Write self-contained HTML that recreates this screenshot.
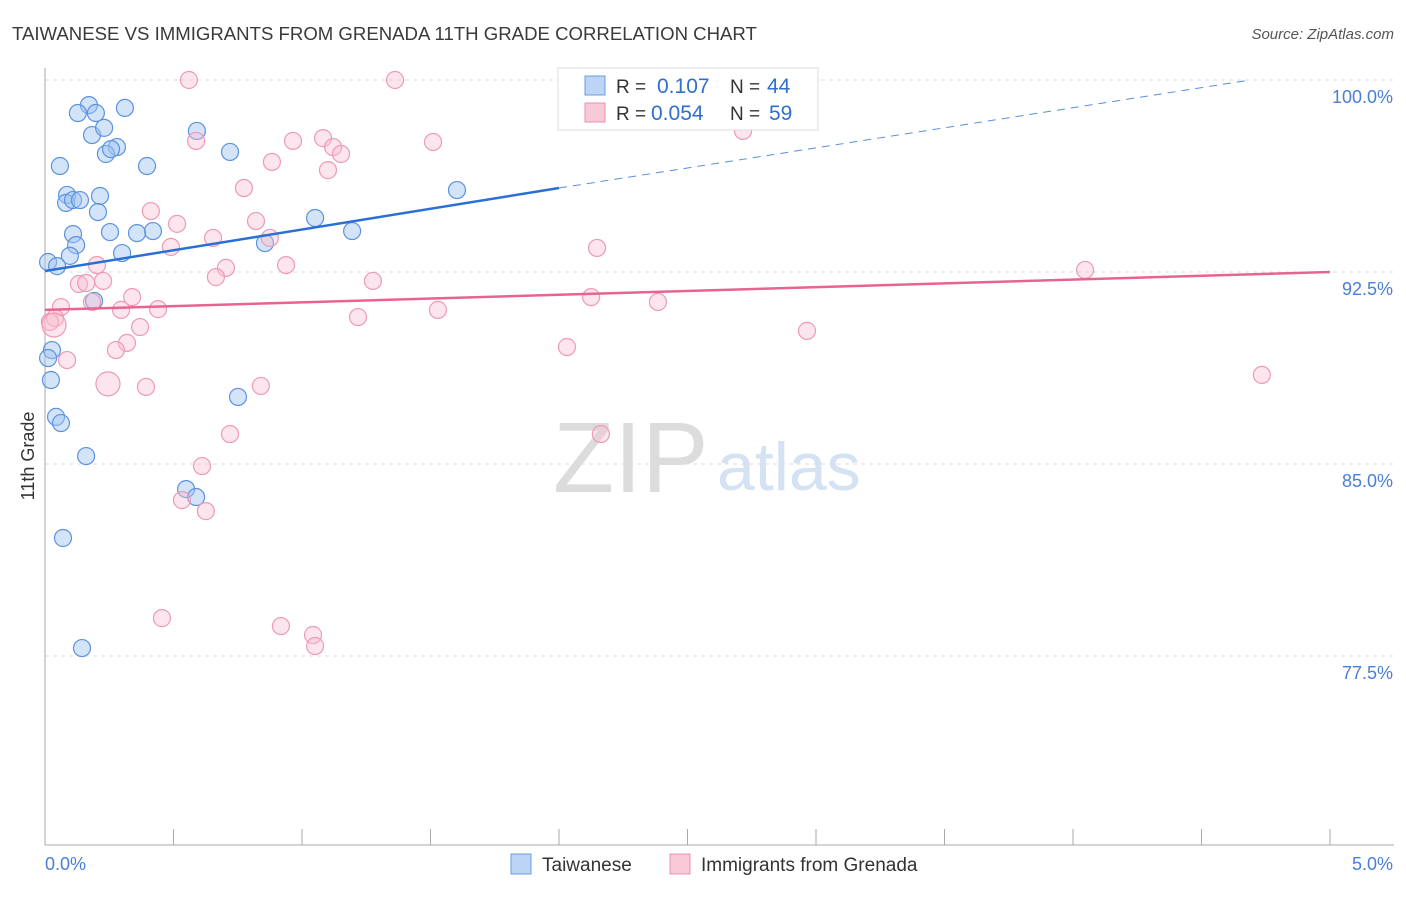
<!DOCTYPE html>
<html><head><meta charset="utf-8">
<style>
body{margin:0;background:#fff;font-family:"Liberation Sans",sans-serif;}
svg text{font-family:"Liberation Sans",sans-serif;}
</style></head>
<body>
<svg id="chart" width="1406" height="892" xmlns="http://www.w3.org/2000/svg">
<text x="12" y="40" font-size="18.6" fill="#3a3a3a">TAIWANESE VS IMMIGRANTS FROM GRENADA 11TH GRADE CORRELATION CHART</text>
<text x="1394" y="39" font-size="15" fill="#555" text-anchor="end" font-style="italic">Source: ZipAtlas.com</text>
<g>
<text x="553" y="492" font-size="100" fill="#dcdcdc" font-family="Liberation Serif,serif">ZIP</text>
<text x="717" y="490" font-size="68" fill="#d4e2f4">atlas</text>
</g>
<g id="grid"></g>
<g id="axes"></g>
<g id="pts"></g>
<g id="trends"></g>
<text transform="translate(34,456) rotate(-90)" font-size="18" fill="#333" text-anchor="middle">11th Grade</text>
<g>
<rect x="558" y="68" width="260" height="62" fill="#fff" stroke="#ddd"/>
<rect x="585" y="76" width="20" height="19" fill="#bcd4f5" stroke="#6a9de0"/>
<text x="616" y="93" font-size="19" fill="#333">R = </text><text x="657" y="93" font-size="21" fill="#2f6fd0">0.107</text>
<text x="730" y="93" font-size="19" fill="#333">N = </text><text x="767" y="93" font-size="21" fill="#2f6fd0">44</text>
<rect x="585" y="103" width="20" height="19" fill="#f8c9d7" stroke="#e890aa"/>
<text x="616" y="120" font-size="19" fill="#333">R = </text><text x="651" y="120" font-size="21" fill="#2f6fd0">0.054</text>
<text x="730" y="120" font-size="19" fill="#333">N = </text><text x="769" y="120" font-size="21" fill="#2f6fd0">59</text>
</g>
<g>
<rect x="511" y="854" width="20" height="20" fill="#bcd4f5" stroke="#6a9de0"/>
<text x="542" y="871" font-size="19" fill="#333">Taiwanese</text>
<rect x="670" y="854" width="20" height="20" fill="#f8c9d7" stroke="#e890aa"/>
<text x="701" y="871" font-size="19" fill="#333">Immigrants from Grenada</text>
</g>
</svg>
<script>
const blueX=[0.171,0.128,0.198,0.311,0.183,0.230,0.280,0.237,0.257,0.058,0.397,0.591,0.720,0.086,0.214,0.082,0.109,0.136,0.206,1.603,1.051,1.195,0.420,0.358,0.253,0.109,0.121,0.097,0.300,0.856,0.012,0.047,0.191,0.027,0.012,0.023,0.043,0.062,0.751,0.160,0.549,0.588,0.070,0.144];
const blueY=[99.02,98.71,98.71,98.91,97.85,98.13,97.38,97.11,97.30,96.64,96.64,98.01,97.19,95.51,95.47,95.20,95.31,95.31,94.84,95.70,94.61,94.10,94.10,94.02,94.06,93.98,93.55,93.13,93.24,93.63,92.89,92.73,91.37,89.45,89.14,88.28,86.84,86.60,87.62,85.31,84.02,83.71,82.11,77.81];
const pinkX=[0.560,1.362,0.588,0.965,1.082,1.121,1.152,1.101,0.883,0.774,0.412,0.514,0.821,0.654,0.875,0.490,1.510,2.716,2.148,0.202,0.938,0.704,0.665,0.132,0.160,0.226,1.276,0.339,0.183,0.062,2.125,2.385,4.047,0.296,0.440,1.529,1.218,0.370,0.039,0.019,2.965,0.319,0.276,2.031,0.086,4.735,0.245,0.393,0.840,0.720,2.163,0.611,0.533,0.626,0.455,0.918,1.043,1.051,0.035];
const pinkY=[100.0,100.0,97.62,97.62,97.73,97.38,97.11,96.48,96.80,95.78,94.88,94.38,94.49,93.83,93.83,93.48,97.58,98.01,93.44,92.77,92.77,92.66,92.30,92.03,92.07,92.15,92.15,91.52,91.33,91.13,91.52,91.33,92.58,91.02,91.05,91.02,90.74,90.35,90.70,90.55,90.20,89.73,89.45,89.57,89.06,88.48,88.13,88.01,88.05,86.17,86.17,84.92,83.59,83.16,78.98,78.67,78.32,77.89,90.43];
const pinkBig=[46,58];
const blueTrendX=[0,2,4.69];
const blueTrendY=[92.54,95.78,100.0];
const pinkTrendX=[0,5];
const pinkTrendY=[91.02,92.5];
const yTicks=[100,92.5,85,77.5];
const yTickLabels=["100.0%","92.5%","85.0%","77.5%"];
const xTicks=[0,0.5,1,1.5,2,2.5,3,3.5,4,4.5,5];
const xEndLabels=["0.0%","5.0%"];

const NS="http://www.w3.org/2000/svg";
const X0=45,X1=1330,Y0=845;
function sx(v){return X0+(v/5)*(X1-X0);}
function sy(v){return 80+(100-v)*25.6;}
function mk(tag,attrs,parent){const e=document.createElementNS(NS,tag);for(const k in attrs)e.setAttribute(k,attrs[k]);parent.appendChild(e);return e;}
const grid=document.getElementById('grid'),axes=document.getElementById('axes'),pts=document.getElementById('pts'),tr=document.getElementById('trends');
yTicks.forEach((t,i)=>{
  const l=mk('line',{x1:X0,x2:1394,y1:sy(t),y2:sy(t),stroke:'#ddd','stroke-dasharray':'4,4'},grid);
  
  
  const tx=mk('text',{x:1393,y:sy(t)+23,'font-size':18,fill:'#4a7fd4','text-anchor':'end'},axes);
  tx.textContent=yTickLabels[i];
  
  
});
const ya=mk('line',{x1:X0,x2:X0,y1:68,y2:Y0,stroke:'#aaa'},axes);


const xa=mk('line',{x1:X0,x2:1394,y1:Y0,y2:Y0,stroke:'#aaa'},axes);


xTicks.forEach(t=>{
  const l=mk('line',{x1:sx(t),x2:sx(t),y1:Y0-16,y2:Y0,stroke:'#aaa'},axes);
  
  
});
[[0,'start',45],[5,'end',1393]].forEach((a,i)=>{
  const tx=mk('text',{x:a[2],y:870,'font-size':18,fill:'#4a7fd4','text-anchor':a[1]},axes);
  tx.textContent=xEndLabels[i];
  
  
});
blueX.forEach((v,i)=>{
  const c=mk('circle',{cx:sx(v),cy:sy(blueY[i]),r:8.5,fill:'rgba(160,195,240,0.45)',stroke:'#5b93e0','stroke-width':1.2},pts);
  
  
});
pinkX.forEach((v,i)=>{
  const r=pinkBig.includes(i)?12:8.5;
  const c=mk('circle',{cx:sx(v),cy:sy(pinkY[i]),r:r,fill:'rgba(248,190,208,0.4)',stroke:'#ee9ab4','stroke-width':1.2},pts);
  
  
});
const bs=mk('line',{x1:sx(blueTrendX[0]),y1:sy(blueTrendY[0]),x2:sx(blueTrendX[1]),y2:sy(blueTrendY[1]),stroke:'#2a6fd6','stroke-width':2.5},tr);


const bd=mk('line',{x1:sx(blueTrendX[1]),y1:sy(blueTrendY[1]),x2:sx(blueTrendX[2]),y2:sy(blueTrendY[2]),stroke:'#5b8fd8','stroke-width':1,'stroke-dasharray':'8,6'},tr);


const pl=mk('line',{x1:sx(pinkTrendX[0]),y1:sy(pinkTrendY[0]),x2:sx(pinkTrendX[1]),y2:sy(pinkTrendY[1]),stroke:'#e8648e','stroke-width':2.5},tr);


</script>
</body></html>
